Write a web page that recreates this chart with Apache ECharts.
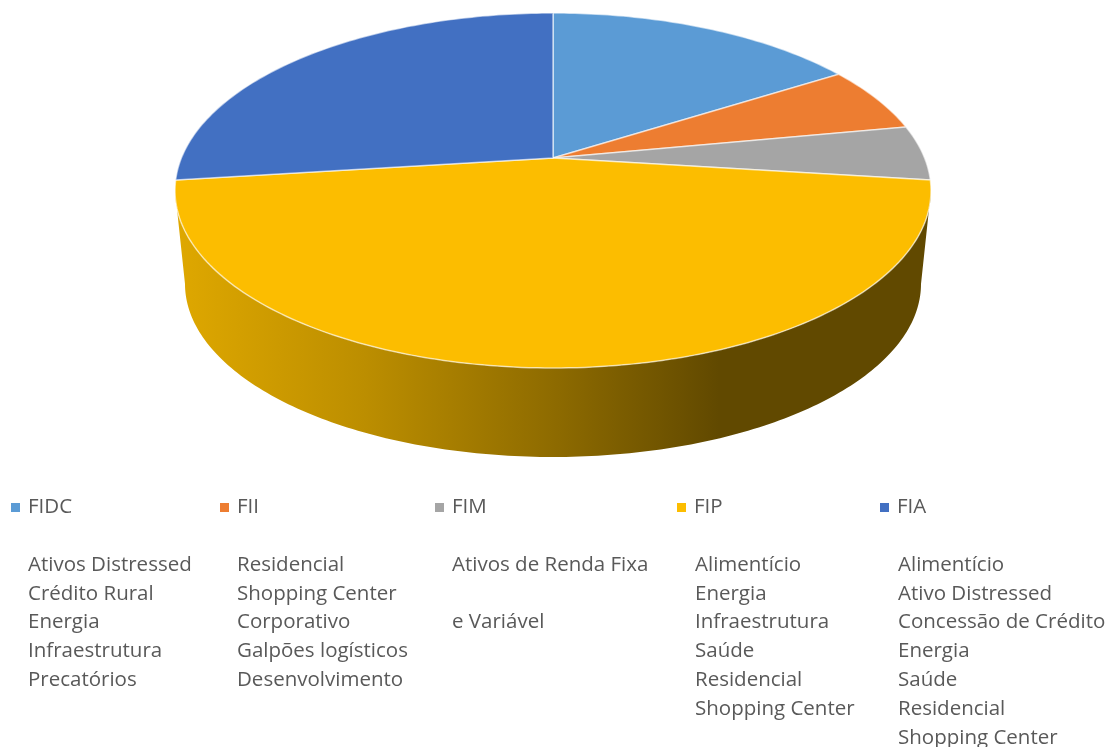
<!DOCTYPE html>
<html>
<head>
    <meta charset="utf-8" />
    <title>Fundos</title>
    <style>
        html, body { margin: 0; padding: 0; background: #fff; }
    </style>
    <script type="text/javascript" src="https://cdn.jsdelivr.net/npm/echarts@6/dist/echarts.min.js"></script>
</head>
<body>
<div id="main" style="width: 1110px;height:747px;"></div>
<script type="text/javascript">
    var categories = ['FIDC', 'FII', 'FIM', 'FIP', 'FIA'];
    var values = [16, 6, 5, 46, 27];
    var colors = ['#5B9BD5', '#ED7D31', '#A5A5A5', '#FCBD00', '#4270C2'];
    var subFIDC = ['Ativos Distressed', 'Crédito Rural', 'Energia', 'Infraestrutura', 'Precatórios'];
    var subFII = ['Residencial', 'Shopping Center', 'Corporativo', 'Galpões logísticos', 'Desenvolvimento'];
    var subFIM = ['Ativos de Renda Fixa', '', 'e Variável'];
    var subFIP = ['Alimentício', 'Energia', 'Infraestrutura', 'Saúde', 'Residencial', 'Shopping Center'];
    var subFIA = ['Alimentício', 'Ativo Distressed', 'Concessão de Crédito', 'Energia', 'Saúde', 'Residencial', 'Shopping Center'];
    var subLists = [subFIDC, subFII, subFIM, subFIP, subFIA];

    var legendX = [11, 220, 435, 677, 880];
    var textX = [28, 237, 452, 695, 898];

    // top face: ellipse seen in perspective, so the pie centre sits above the ellipse centre
    var top3d = { cx: 553, cy: 190.5, a: 378, b: 177.5, c: 0.183 };
    // bottom rim of the wall
    var rim = { cx: 553, cy: 284, a: 368, b: 173 };

    function project(deg) {
        var t = deg * Math.PI / 180;
        var d = 1 + top3d.c * Math.cos(t);
        var k = Math.sqrt(1 - top3d.c * top3d.c);
        return [
            top3d.cx + top3d.a * Math.sin(t) * k / d,
            top3d.cy + top3d.b * (-Math.cos(t) - top3d.c) / d
        ];
    }

    function slicePoints(from, to) {
        var pts = [[top3d.cx, top3d.cy - top3d.b * top3d.c]];
        var n = Math.ceil(to - from);
        for (var i = 0; i <= n; i++) {
            pts.push(project(from + (to - from) * i / n));
        }
        return pts;
    }

    function wallPoints() {
        var pts = [], i, t;
        for (i = 0; i <= 180; i++) {
            t = i * Math.PI / 180;
            pts.push([top3d.cx + top3d.a * Math.cos(t), top3d.cy + top3d.b * Math.sin(t)]);
        }
        for (i = 180; i >= 0; i--) {
            t = i * Math.PI / 180;
            pts.push([rim.cx + rim.a * Math.cos(t), rim.cy + rim.b * Math.sin(t)]);
        }
        return pts;
    }

    var total = values.reduce(function (s, v) { return s + v; }, 0);

    function makeRenderItem(index) {
        return function (params, api) {
            var before = 0;
            for (var i = 0; i < index; i++) before += values[i];
            var from = before / total * 360;
            var to = from + api.value(0) / total * 360;
            var children = [];
            if (categories[index] === 'FIP') {
                children.push({
                    type: 'polygon',
                    shape: { points: wallPoints() },
                    style: {
                        fill: new echarts.graphic.LinearGradient(0, 0, 1, 0, [
                            { offset: 0, color: '#DFA800' },
                            { offset: 0.25, color: '#BC8E00' },
                            { offset: 0.5, color: '#8E6B00' },
                            { offset: 0.72, color: '#614900' },
                            { offset: 1, color: '#614900' }
                        ])
                    }
                });
            }
            children.push({
                type: 'polygon',
                shape: { points: slicePoints(from, to) },
                style: { fill: colors[index], stroke: 'rgba(255,255,255,0.6)', lineWidth: 1.5 }
            });
            return { type: 'group', children: children };
        };
    }

    var series = categories.map(function (name, i) {
        return {
            name: name,
            type: 'custom',
            coordinateSystem: 'none',
            color: colors[i],
            itemStyle: { color: colors[i] },
            animation: false,
            silent: true,
            renderItem: makeRenderItem(i),
            data: [[values[i]]]
        };
    });

    var legends = categories.map(function (name, i) {
        return {
            left: legendX[i],
            top: 497,
            padding: 0,
            icon: 'rect',
            itemWidth: 9,
            itemHeight: 9,
            selectedMode: false,
            data: [name],
            textStyle: {
                fontFamily: 'Open Sans',
                fontSize: 20.5,
                color: '#595959',
                padding: [0, 0, 0, 3]
            }
        };
    });

    var texts = [];
    subLists.forEach(function (list, col) {
        list.forEach(function (line, row) {
            if (!line) return;
            texts.push({
                type: 'text',
                silent: true,
                style: {
                    x: textX[col],
                    y: 565 + row * 28.8,
                    text: line,
                    fill: '#595959',
                    font: '20.5px "Open Sans"',
                    verticalAlign: 'middle'
                }
            });
        });
    });

    var myChart = echarts.init(document.getElementById('main'));
    myChart.setOption({
        animation: false,
        legend: legends,
        graphic: { elements: texts },
        series: series
    });
</script>
</body>
</html>
